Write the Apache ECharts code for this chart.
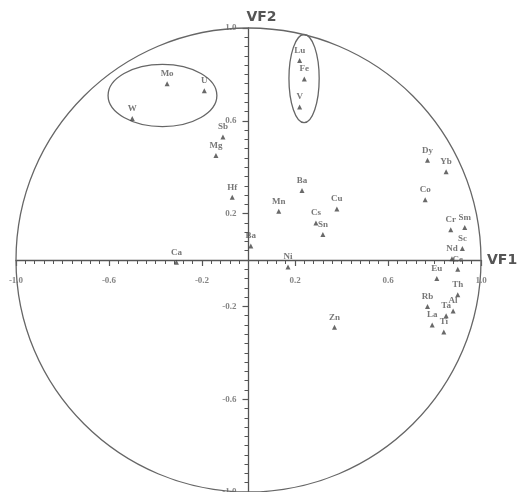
<!DOCTYPE html>
<html>
<head>
<meta charset="utf-8">
<script src="https://cdn.jsdelivr.net/npm/echarts@6/dist/echarts.min.js"></script>
<style>
  html, body { margin: 0; padding: 0; background: #fff; }
  #chart { width: 518px; height: 492px; }
</style>
</head>
<body>
<div id="chart"></div>
<script>
// loadings
const elements = ['Mo', 'U', 'W', 'Sb', 'Mg', 'Hf', 'Ba', 'Ba', 'Mn', 'Cs', 'Cu', 'Sn', 'Ni', 'Ca',
  'Lu', 'Fe', 'V', 'Dy', 'Yb', 'Co', 'Cr', 'Sm', 'Sc', 'Nd', 'Ce', 'Eu', 'Th', 'Rb', 'Ta', 'Al', 'La', 'Ti', 'Zn'];
const vf1 = [-0.35, -0.19, -0.50, -0.11, -0.14, -0.07, 0.01, 0.23, 0.13, 0.29, 0.38, 0.32, 0.17, -0.31,
  0.22, 0.24, 0.22, 0.77, 0.85, 0.76, 0.87, 0.93, 0.92, 0.875, 0.90, 0.81, 0.90, 0.77, 0.85, 0.88, 0.79, 0.84, 0.37];
const vf2 = [0.76, 0.73, 0.61, 0.53, 0.45, 0.27, 0.06, 0.30, 0.21, 0.16, 0.22, 0.11, -0.03, -0.01,
  0.86, 0.78, 0.66, 0.43, 0.38, 0.26, 0.13, 0.14, 0.05, 0.005, -0.04, -0.08, -0.15, -0.20, -0.24, -0.22, -0.28, -0.31, -0.29];

const tickLabels = [-1.0, -0.6, -0.2, 0.2, 0.6, 1.0];

// unit circle + the two groups circled in the figure (centre x, centre y, radius x, radius y)
const ringsCx = [0, -0.37, 0.239];
const ringsCy = [0, 0.709, 0.782];
const ringsRx = [1, 0.234, 0.065];
const ringsRy = [1, 0.134, 0.19];

const chart = echarts.init(document.getElementById('chart'));

const serif = 'Liberation Serif';
const grey = '#555';

function axisCommon() {
  return {
    type: 'value',
    min: -1,
    max: 1,
    interval: 0.4,
    splitLine: { show: false },
    axisLine: { onZero: true, lineStyle: { color: grey, width: 1.3 } },
    axisTick: { length: 6, lineStyle: { color: grey, width: 1.2 } },
    minorTick: { show: true, splitNumber: 10, length: 4, lineStyle: { color: grey, width: 1 } },
    axisLabel: { show: false }
  };
}

const tickFont = { fontFamily: serif, fontSize: 9, fontWeight: 'bold', color: '#666' };

const ringData = ringsCx.map((c, i) => [c, ringsCy[i], ringsRx[i], ringsRy[i]]);
const pointData = elements.map((e, i) => [vf1[i], vf2[i], e]);

const option = {
  animation: false,
  grid: { left: 16, right: 37, top: 28, bottom: 0, outerBoundsMode: 'none', containLabel: false },
  xAxis: Object.assign(axisCommon(), {
    name: 'VF1',
    nameGap: 6,
    nameTextStyle: { fontFamily: 'DejaVu Sans', fontWeight: 'bold', fontSize: 14, color: '#555', padding: [0, 0, 0, 0] }
  }),
  yAxis: Object.assign(axisCommon(), {
    name: 'VF2',
    nameGap: 4,
    nameTextStyle: { fontFamily: 'DejaVu Sans', fontWeight: 'bold', fontSize: 14, color: '#555', padding: [0, 0, 0, 26] }
  }),
  series: [
    {
      type: 'custom',
      silent: true,
      data: ringData,
      renderItem: (params, api) => {
        const c = api.coord([api.value(0), api.value(1)]);
        const s = api.size([api.value(2), api.value(3)]);
        return {
          type: 'ellipse',
          shape: { cx: c[0], cy: c[1], rx: s[0], ry: s[1] },
          style: { fill: 'none', stroke: '#666', lineWidth: 1.3 }
        };
      },
      z: 1
    },
    {
      // tick labels along the horizontal axis (they sit on the zero line)
      type: 'scatter',
      silent: true,
      symbolSize: 0,
      data: tickLabels.map(t => [t, 0]),
      label: Object.assign({ show: true, position: 'bottom', distance: 16, formatter: p => p.data[0].toFixed(1) }, tickFont),
      z: 2
    },
    {
      // tick labels along the vertical axis
      type: 'scatter',
      silent: true,
      symbolSize: 0,
      data: tickLabels.map(t => [0, t]),
      label: Object.assign({ show: true, position: 'left', distance: 12, formatter: p => p.data[1].toFixed(1) }, tickFont),
      z: 2
    },
    {
      type: 'scatter',
      data: pointData,
      symbol: 'triangle',
      symbolSize: 5,
      itemStyle: { color: '#444' },
      label: {
        show: true,
        position: 'top',
        distance: 3,
        formatter: p => p.data[2],
        fontFamily: serif,
        fontSize: 9,
        fontWeight: 'bold',
        color: '#555'
      },
      z: 3
    }
  ]
};

chart.setOption(option);
</script>
</body>
</html>
